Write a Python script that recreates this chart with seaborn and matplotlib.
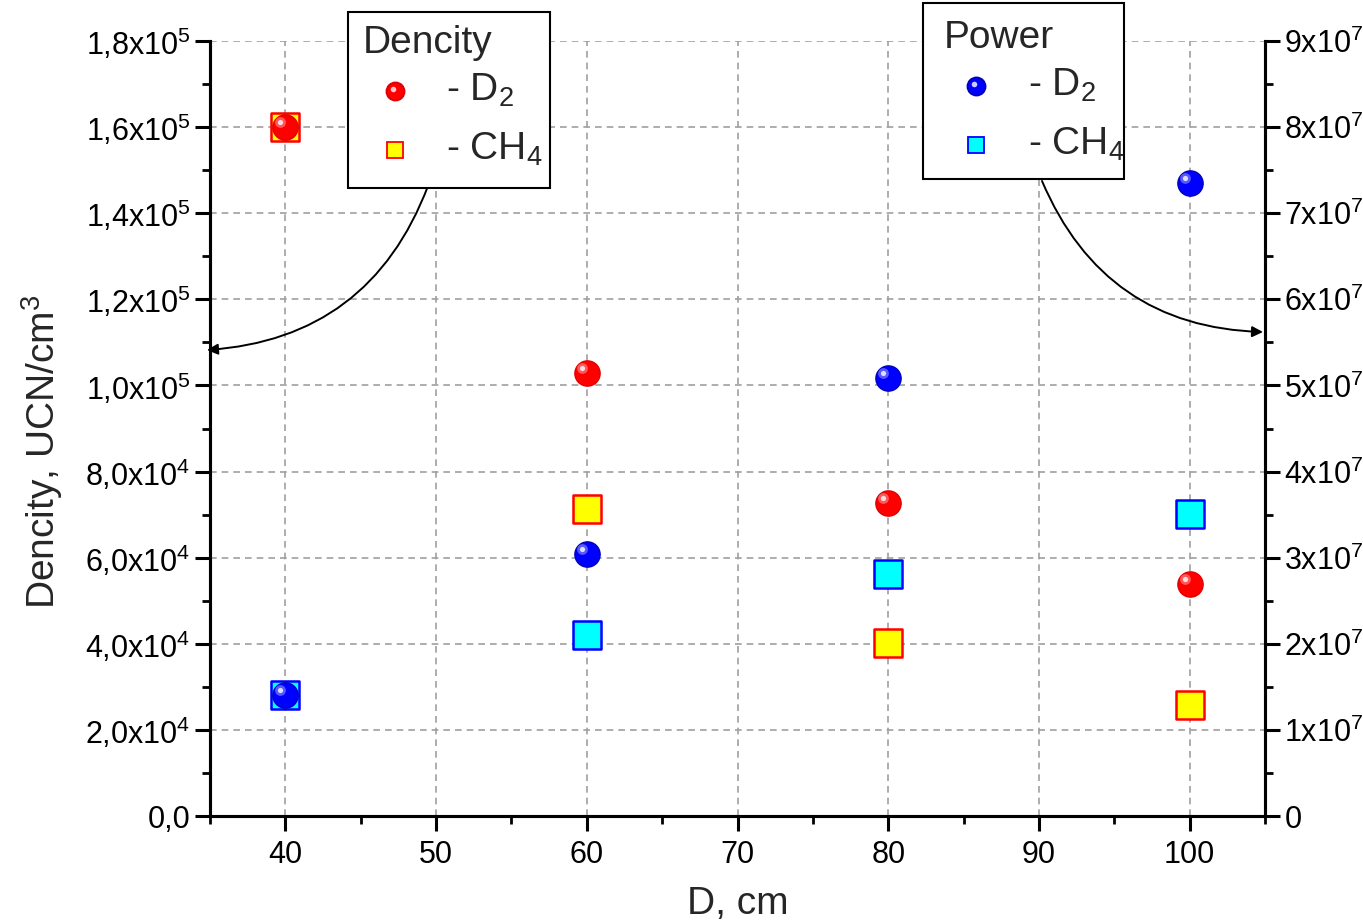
import matplotlib
matplotlib.use("Agg")
import matplotlib.pyplot as plt
import seaborn as sns
import pandas as pd
from matplotlib.transforms import offset_copy
from matplotlib.ticker import MultipleLocator, FixedLocator, FixedFormatter
from matplotlib.patches import Rectangle
from matplotlib.lines import Line2D

# ---------------- data ----------------
distance = [40, 60, 80, 100]
density_d2 = [1.60e5, 1.03e5, 7.27e4, 5.39e4]
density_ch4 = [1.60e5, 7.13e4, 4.02e4, 2.58e4]
power_d2 = [1.41e7, 3.04e7, 5.09e7, 7.35e7]
power_ch4 = [1.41e7, 2.10e7, 2.81e7, 3.51e7]

x_ticks = [40, 50, 60, 70, 80, 90, 100]
left_tick_values = [0, 2e4, 4e4, 6e4, 8e4, 1e5, 1.2e5, 1.4e5, 1.6e5, 1.8e5]
left_tick_labels = ["0,0", "2,0x10$^4$", "4,0x10$^4$", "6,0x10$^4$", "8,0x10$^4$",
                    "1,0x10$^5$", "1,2x10$^5$", "1,4x10$^5$", "1,6x10$^5$", "1,8x10$^5$"]
right_tick_values = [0, 1e7, 2e7, 3e7, 4e7, 5e7, 6e7, 7e7, 8e7, 9e7]
right_tick_labels = ["0", "1x10$^7$", "2x10$^7$", "3x10$^7$", "4x10$^7$",
                     "5x10$^7$", "6x10$^7$", "7x10$^7$", "8x10$^7$", "9x10$^7$"]

df = pd.DataFrame({"D": distance, "dens_d2": density_d2, "dens_ch4": density_ch4,
                   "pow_d2": power_d2, "pow_ch4": power_ch4})

# ---------------- style ----------------
sns.set_style("white")
plt.rcParams["font.family"] = ["Liberation Sans", "DejaVu Sans"]
plt.rcParams["mathtext.fontset"] = "custom"
plt.rcParams["mathtext.rm"] = "Liberation Sans"
plt.rcParams["mathtext.it"] = "Liberation Sans:italic"
plt.rcParams["mathtext.bf"] = "Liberation Sans:bold"

W, H = 1363, 923
fig = plt.figure(figsize=(W / 100, H / 100), dpi=100)
ax = fig.add_axes([210 / W, 1 - 816 / H, (1265 - 210) / W, (816 - 41) / H])
ax2 = ax.twinx()

def fx(px):
    return px / W

def fy(py):
    return 1 - py / H

SPH = 330
SQ = 430

def sphere(axis, y, color, edge):
    sns.scatterplot(data=df, x="D", y=y, ax=axis, s=SPH, marker="o", color=color,
                    edgecolor=edge, linewidth=1.0, zorder=5, legend=False)
    tr = offset_copy(axis.transData, fig=fig, x=-3.5, y=3.5, units="points")
    axis.scatter(df["D"], df[y], s=60, color="white", alpha=0.35, linewidths=0,
                 transform=tr, zorder=6)
    axis.scatter(df["D"], df[y], s=14, color="white", alpha=0.8, linewidths=0,
                 transform=tr, zorder=7)

def square(axis, y, face, edge):
    sns.scatterplot(data=df, x="D", y=y, ax=axis, s=SQ, marker="s", color=face,
                    edgecolor=edge, linewidth=1.8, zorder=4, legend=False)

square(ax, "dens_ch4", "#ffff00", "#ff0000")
sphere(ax, "dens_d2", "#ff0000", "#e00000")
square(ax2, "pow_ch4", "#00ffff", "#0000ff")
sphere(ax2, "pow_d2", "#0000ff", "#0000c0")

# ---------------- axes ----------------
ax.set_xlim(35, 105)
ax.set_ylim(0, 1.8e5)
ax2.set_ylim(0, 9e7)

ax.xaxis.set_major_locator(FixedLocator(x_ticks))
ax.xaxis.set_minor_locator(MultipleLocator(5))
ax.yaxis.set_major_locator(FixedLocator(left_tick_values))
ax.yaxis.set_major_formatter(FixedFormatter(left_tick_labels))
ax.yaxis.set_minor_locator(MultipleLocator(1e4))
ax2.yaxis.set_major_locator(FixedLocator(right_tick_values))
ax2.yaxis.set_major_formatter(FixedFormatter(right_tick_labels))
ax2.yaxis.set_minor_locator(MultipleLocator(5e6))

for a in (ax, ax2):
    a.spines["top"].set_visible(False)
    for s in a.spines.values():
        s.set_linewidth(2.2)
        s.set_color("black")
    a.tick_params(which="major", length=11, width=2.2, labelsize=22, color="black",
                  labelcolor="black", direction="out")
    a.tick_params(which="minor", length=6, width=2.0, color="black", direction="out")
    a.set_xlabel("")
    a.set_ylabel("")

ax.tick_params(axis="x", pad=6)
ax.tick_params(axis="y", pad=3)
ax2.tick_params(axis="y", pad=3, right=True, left=False, which="both")
ax.tick_params(axis="y", which="both", left=True, right=False)
ax.tick_params(axis="x", which="both", bottom=True, top=False)

ax.grid(True, which="major", color="#a0a0a0", linestyle=(0, (4, 3)), linewidth=1.2)
ax.set_axisbelow(True)

ax.set_ylabel("Dencity, UCN/cm$^3$", fontsize=28)
ax.yaxis.set_label_coords(-0.137, 0.47)
ax.set_xlabel("D, cm", fontsize=28)
ax.xaxis.set_label_coords(0.5, -0.09)
ax.xaxis.label.set_va("top")

# ---------------- legend boxes ----------------
def legend_box(x0, y0, x1, y1, title, tx, ty, entries):
    fig.add_artist(Rectangle((fx(x0), fy(y1)), fx(x1) - fx(x0), fy(y0) - fy(y1),
                             transform=fig.transFigure, facecolor="white",
                             edgecolor="black", linewidth=1.5, zorder=20))
    fig.text(fx(tx), fy(ty), title, fontsize=28, ha="left", va="center", zorder=21)
    for (mx, my, marker, ms, fc, ec, lx, label) in entries:
        fig.add_artist(Line2D([fx(mx)], [fy(my)], marker=marker, markersize=ms,
                              markerfacecolor=fc, markeredgecolor=ec, markeredgewidth=1.3,
                              linestyle="", transform=fig.transFigure, zorder=22))
        if marker == "o":
            fig.add_artist(Line2D([fx(mx - 2.5)], [fy(my - 2.5)], marker="o", markersize=4,
                                  markerfacecolor="white", markeredgewidth=0, alpha=0.8,
                                  linestyle="", transform=fig.transFigure, zorder=23))
        fig.text(fx(lx), fy(my - 1), label, fontsize=28, ha="left", va="center", zorder=21)

legend_box(348, 12, 550, 188, "Dencity", 363, 43, [
    (395, 91, "o", 13, "#ff0000", "#e00000", 446, "- D$_2$"),
    (395, 150, "s", 11, "#ffff00", "#ff0000", 446, "- CH$_4$"),
])
legend_box(923, 3, 1124, 179, "Power", 944, 38, [
    (976, 86, "o", 13, "#0000ff", "#0000c0", 1028, "- D$_2$"),
    (976, 145, "s", 11, "#00ffff", "#0000ff", 1028, "- CH$_4$"),
])

# ---------------- arrows ----------------
arrow = dict(arrowstyle="-|>", color="black", lw=1.4, mutation_scale=16,
             shrinkA=0, shrinkB=0)
ax.annotate("", xy=(fx(207), fy(350)), xytext=(fx(428), fy(186)),
            xycoords="figure fraction", textcoords="figure fraction",
            arrowprops=dict(arrow, connectionstyle="arc3,rad=-0.32"), zorder=25,
            annotation_clip=False)
ax2.annotate("", xy=(fx(1263), fy(332)), xytext=(fx(1042), fy(181)),
             xycoords="figure fraction", textcoords="figure fraction",
             arrowprops=dict(arrow, connectionstyle="arc3,rad=0.32"), zorder=25,
             annotation_clip=False)

fig.savefig("out.png", dpi=100)
